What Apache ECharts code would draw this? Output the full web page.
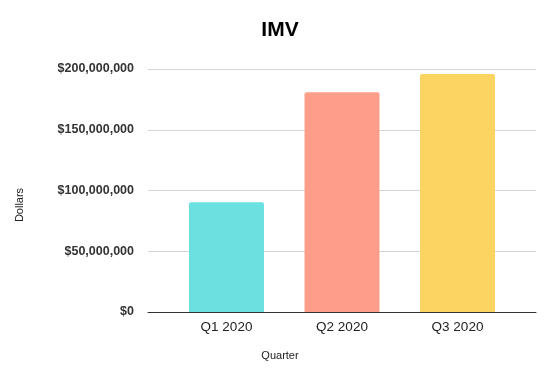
<!DOCTYPE html>
<html>
<head>
<meta charset="utf-8">
<script src="https://cdn.jsdelivr.net/npm/echarts@6/dist/echarts.min.js"></script>
<style>html,body{margin:0;padding:0;background:#fff;}#c{width:560px;height:382px;}</style>
</head>
<body>
<div id="c"></div>
<script>
const titleText = 'IMV';
const categories = ['Q1 2020', 'Q2 2020', 'Q3 2020'];
const values = [90400000, 180800000, 195900000];
const barColors = ['#6be0e0', '#fc9e8a', '#fcd462'];
const yMin = 0, yMax = 200000000, yStep = 50000000;
const xAxisTitle = 'Quarter';
const yAxisTitle = 'Dollars';

const fmt = v => '$' + Math.round(v).toString().replace(/\B(?=(\d{3})+(?!\d))/g, ',');
const font = '"Liberation Sans", Arial, sans-serif';

const chart = echarts.init(document.getElementById('c'), null, {renderer: 'canvas'});
chart.setOption({
  animation: false,
  backgroundColor: '#fff',
  title: {
    text: titleText, left: 'center', top: 15,
    textStyle: {fontFamily: font, fontSize: 21, fontWeight: 'bold', color: '#000'}
  },
  grid: [
    {left: 148, right: 24, top: 69, bottom: 70},
    {left: 168.75, right: 44.75, top: 69, bottom: 70}
  ],
  xAxis: [
    {type: 'category', gridIndex: 0, data: categories,
     axisLine: {show: true, lineStyle: {color: '#333', width: 1}},
     axisTick: {show: false}, axisLabel: {show: false}, splitLine: {show: false}},
    {type: 'category', gridIndex: 1, data: categories,
     axisLine: {show: false}, axisTick: {show: false},
     axisLabel: {fontFamily: font, fontSize: 13.5, color: '#222', margin: 8}}
  ],
  yAxis: [
    {type: 'value', gridIndex: 0, min: yMin, max: yMax, interval: yStep,
     axisLine: {show: false}, axisTick: {show: false},
     axisLabel: {fontFamily: font, fontSize: 12.5, fontWeight: 'bold', color: '#333', margin: 14, formatter: fmt},
     splitLine: {lineStyle: {color: '#d6d6d6', width: 1}}},
    {type: 'value', gridIndex: 1, min: yMin, max: yMax, interval: yStep, show: false,
     splitLine: {show: false}}
  ],
  series: [{
    type: 'bar', xAxisIndex: 1, yAxisIndex: 1, barWidth: 75,
    data: values.map((v, i) => ({value: v, itemStyle: {color: barColors[i], borderRadius: [2, 2, 0, 0]}}))
  }],
  graphic: [
    {type: 'text', x: 280, y: 356, style: {text: xAxisTitle, font: '11px ' + font, fill: '#222', textAlign: 'center', textVerticalAlign: 'middle'}},
    {type: 'text', x: 20, y: 205, rotation: Math.PI / 2, style: {text: yAxisTitle, font: '11px ' + font, fill: '#222', textAlign: 'center', textVerticalAlign: 'middle'}}
  ]
});
</script>
</body>
</html>
